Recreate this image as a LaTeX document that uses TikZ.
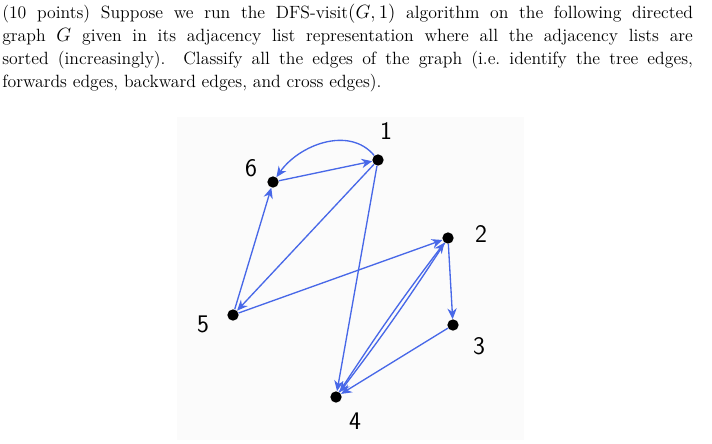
\documentclass[tikz,border=0pt]{standalone}
\usepackage{amsmath}
\usepackage{xcolor}
\usetikzlibrary{arrows.meta, positioning}
\definecolor{edgeblue}{RGB}{72,104,232}
\tikzset{
  vert/.style={circle,fill=black,inner sep=0pt,minimum size=8.5pt},
  vlabel/.style={inner sep=0pt,font=\fontsize{19}{22}\selectfont\sffamily},
  dedge/.style={draw=edgeblue,line width=1pt,-{Stealth[length=8pt,width=7pt]}}
}

\begin{document}
\begin{tikzpicture}[x=0.75pt,y=0.75pt]
\useasboundingbox (0,0) rectangle (712,-443);
\fill[black!1.5] (177,-117) rectangle (524,-440);
% problem statement
\node[anchor=north west,inner sep=0pt,text width=518pt,align=justify,
  font=\fontsize{13.3}{17.25}\selectfont] (prob) at (2,-4)
  {(10 points) Suppose we run the DFS-visit$(G,1)$ algorithm on the following directed\linebreak
   graph $G$ given in its adjacency list representation where all the adjacency lists are\linebreak
   sorted (increasingly). Classify all the edges of the graph (i.e.\ identify the tree edges,\linebreak
   forwards edges, backward edges, and cross edges).\par};
% vertices
\node[vert] (v1) at (378,-160) {};
\node[vert] (v6) at (273,-182) {};
\node[vert] (v2) at (448,-238) {};
\node[vert] (v5) at (233,-315) {};
\node[vert] (v3) at (453,-325) {};
\node[vert] (v4) at (336,-397) {};
\node[vlabel] (l1) at (386,-131) {1};
\node[vlabel] (l6) at (251,-168) {6};
\node[vlabel] (l2) at (481,-234) {2};
\node[vlabel] (l5) at (203,-324) {5};
\node[vlabel] (l3) at (479,-346) {3};
\node[vlabel] (l4) at (355,-421) {4};
% edges
\draw[dedge] (v1) to[out=130,in=55] (v6);
\draw[dedge] (v6) -- (v1);
\draw[dedge] (v5) -- (v6);
\draw[dedge] (v1) -- (v5);
\draw[dedge] (v1) -- (v4);
\draw[dedge] (v5) -- (v2);
\draw[dedge] (v2) -- (v3);
\draw[dedge] (v3) -- (v4);
\draw[dedge] (v4) to[bend left=2] (v2);
\draw[dedge] (v2) to[bend left=2] (v4);
\end{tikzpicture}
\end{document}
